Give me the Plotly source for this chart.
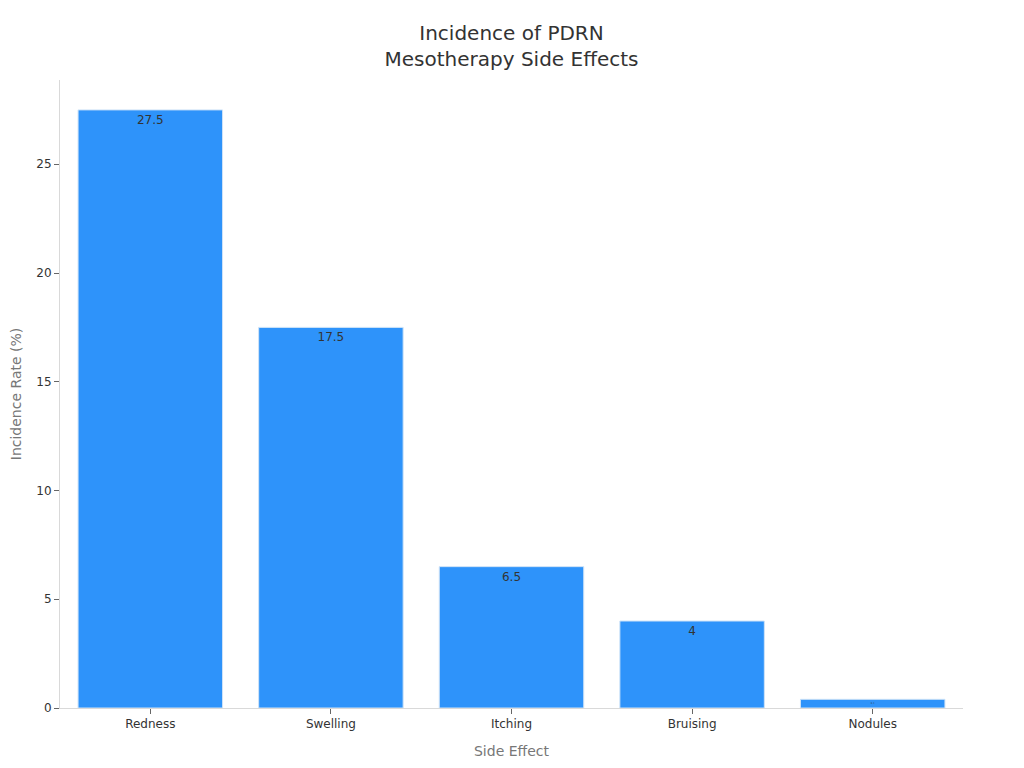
import plotly.graph_objects as go

side_effects = ['Redness', 'Swelling', 'Itching', 'Bruising', 'Nodules']
incidence = [27.5, 17.5, 6.5, 4, 0.4]

# page body has an 8px margin, so the figure is shrunk and the margins trimmed to match
fig = go.Figure(go.Bar(
    x=side_effects,
    y=incidence,
    text=incidence,
    textposition='inside',
    insidetextanchor='end',
    textfont=dict(color='#333333', size=12),
    marker=dict(color='#2e93fa', line=dict(color='#cfe3f7', width=1)),
))

fig.update_layout(
    width=1016, height=760,
    margin=dict(l=52, r=61, t=72, b=60),
    paper_bgcolor='white', plot_bgcolor='white',
    font=dict(family='DejaVu Sans, sans-serif', color='#333333', size=12),
    title=dict(text='Incidence of PDRN<br>Mesotherapy Side Effects', x=0.5, xref='paper',
               xanchor='center', y=0.958, yanchor='top', font=dict(size=20, color='#333333')),
    bargap=0.2,
    showlegend=False,
)
fig.update_xaxes(
    title=dict(text='Side Effect', font=dict(size=14, color='#777777')),
    showline=True, linecolor='#d9d9d9', ticks='outside', ticklen=5, tickcolor='#666666',
    showgrid=False, automargin=False,
)
fig.update_yaxes(
    title=dict(text='Incidence Rate (%)', font=dict(size=14, color='#777777'), standoff=15),
    range=[0, 28.875], showline=True, linecolor='#d9d9d9', ticks='outside', ticklen=5,
    tickcolor='#666666', showgrid=False, zeroline=False, dtick=5, automargin=False,
)

fig.write_html('out.html')
